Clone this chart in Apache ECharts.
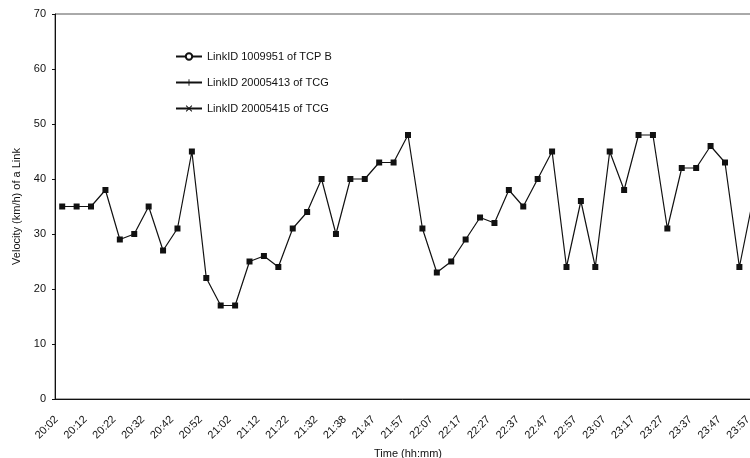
<!DOCTYPE html>
<html>
<head>
<meta charset="utf-8">
<script src="https://cdn.jsdelivr.net/npm/echarts@6/dist/echarts.min.js"></script>
<style>
  html, body { margin: 0; padding: 0; background: #fff; }
  #main { width: 750px; height: 458px; }
</style>
</head>
<body>
<div id="main"></div>
<script>
// time of each sample (labels shown on every other one)
var times = [
  '20:02','20:07','20:12','20:17','20:22','20:27','20:32','20:37','20:42','20:47',
  '20:52','20:57','21:02','21:07','21:12','21:17','21:22','21:27','21:32','21:35',
  '21:38','21:42','21:47','21:52','21:57','22:02','22:07','22:12','22:17','22:22',
  '22:27','22:32','22:37','22:42','22:47','22:52','22:57','23:02','23:07','23:12',
  '23:17','23:22','23:27','23:32','23:37','23:42','23:47','23:52','23:57'
]
// velocity in km/h
var velocity = [
  35,35,35,38,29,30,35,27,31,45,
  22,17,17,25,26,24,31,34,40,30,
  40,40,43,43,48,31,23,25,29,33,
  32,38,35,40,45,24,36,24,45,38,
  48,48,31,42,42,46,43,24,37
]
var seriesNames = ['LinkID 1009951 of TCP B', 'LinkID 20005413 of TCG', 'LinkID 20005415 of TCG']
var yTicks = { min: 0, max: 70, step: 10 }

var font = 'Liberation Sans, Arial, sans-serif'
var plusPath = 'path://M4.3,0 L5.7,0 L5.7,4.3 L10,4.3 L10,5.7 L5.7,5.7 L5.7,10 L4.3,10 L4.3,5.7 L0,5.7 L0,4.3 L4.3,4.3 Z'
var crossPath = 'path://M0,1 L1,0 L5,4 L9,0 L10,1 L6,5 L10,9 L9,10 L5,6 L1,10 L0,9 L4,5 Z'

var chart = echarts.init(document.getElementById('main'))
var lineStyle = { color: '#111', width: 1.2 }
var itemStyle = { color: '#111' }

var option = {
  animation: false,
  grid: {
    // right edge runs past the picture, as in the cropped original
    left: 55, top: 14, bottom: 59, right: -11,
    outerBoundsMode: 'none',
    containLabel: false,
    show: true, borderColor: '#555', borderWidth: 1
  },
  legend: {
    orient: 'vertical',
    left: 170, top: 46,
    itemWidth: 26, itemHeight: 8, itemGap: 15,
    textStyle: { fontFamily: font, fontSize: 11, color: '#111' },
    data: seriesNames
  },
  xAxis: {
    type: 'category',
    data: times,
    boundaryGap: true,
    name: 'Time (hh:mm)',
    nameLocation: 'middle',
    nameGap: 48,
    nameTextStyle: { fontFamily: font, fontSize: 11, color: '#111' },
    axisLine: { lineStyle: { color: '#111', width: 1 } },
    axisTick: { show: false },
    axisLabel: {
      interval: 1, rotate: 45, margin: 13,
      padding: [0, 8, 0, 0],
      fontFamily: font, fontSize: 11, color: '#111'
    },
    splitLine: { show: false }
  },
  yAxis: {
    type: 'value',
    min: yTicks.min, max: yTicks.max, interval: yTicks.step,
    name: 'Velocity (km/h) of a Link',
    nameLocation: 'middle',
    nameGap: 33,
    nameTextStyle: { fontFamily: font, fontSize: 11, color: '#111' },
    axisLine: { show: true, lineStyle: { color: '#111', width: 1 } },
    axisTick: { show: true, length: 3, lineStyle: { color: '#111' } },
    axisLabel: { margin: 9, fontFamily: font, fontSize: 11, color: '#111' },
    splitLine: { show: false }
  },
  series: [
    {
      name: seriesNames[0],
      type: 'line',
      symbol: 'emptyCircle',
      data: velocity.map(function (v) { return { value: v, symbol: 'rect', symbolSize: 6 } }),
      lineStyle: lineStyle,
      itemStyle: itemStyle
    },
    {
      name: seriesNames[1],
      type: 'line',
      symbol: plusPath,
      data: [],
      lineStyle: lineStyle,
      itemStyle: itemStyle
    },
    {
      name: seriesNames[2],
      type: 'line',
      symbol: crossPath,
      data: [],
      lineStyle: lineStyle,
      itemStyle: itemStyle
    }
  ]
}
chart.setOption(option)
</script>
</body>
</html>
